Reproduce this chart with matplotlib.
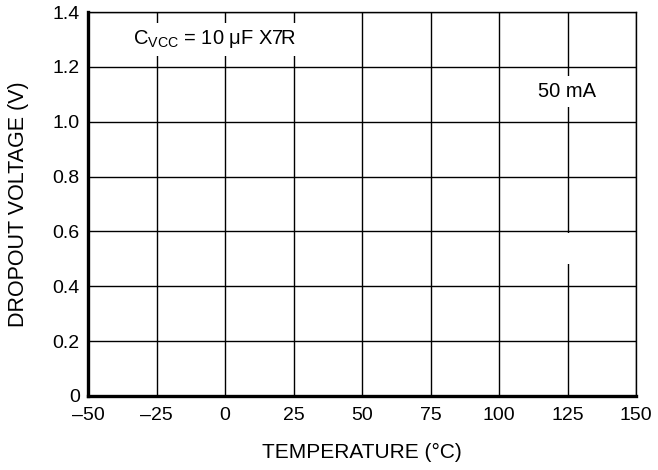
import matplotlib

matplotlib.use("Agg")
import matplotlib.pyplot as plt

plt.rcParams["font.family"] = ["Liberation Sans", "DejaVu Sans"]
plt.rcParams["mathtext.fontset"] = "custom"
plt.rcParams["mathtext.rm"] = "Liberation Sans"

# axis ticks
x_ticks = [-50, -25, 0, 25, 50, 75, 100, 125, 150]
x_labels = ["–50", "–25", "0", "25", "50", "75", "100", "125", "150"]
y_ticks = [0, 0.2, 0.4, 0.6, 0.8, 1.0, 1.2, 1.4]
y_labels = ["0", "0.2", "0.4", "0.6", "0.8", "1.0", "1.2", "1.4"]

# annotations (text, x, y)
cap_note = ("C$_\\mathrm{VCC}$ = 10 μF X7R", -33.5, 1.30)
curve_label = ("50 mA", 125, 1.11)
blank_box = ("   ", 125, 0.537)

fig = plt.figure(figsize=(6.58, 4.70), dpi=100)
ax = fig.add_axes([88 / 658, 1 - 396 / 470, (636 - 88) / 658, (396 - 12) / 470])

ax.set_xlim(x_ticks[0], x_ticks[-1])
ax.set_ylim(y_ticks[0], y_ticks[-1])
ax.set_xticks(x_ticks)
ax.set_xticklabels(x_labels)
ax.set_yticks(y_ticks)
ax.set_yticklabels(y_labels)
ax.tick_params(length=0, labelsize=14, colors="black")
ax.tick_params(axis="x", pad=8)
ax.tick_params(axis="y", pad=6)
ax.grid(True, color="black", linewidth=1.0)
ax.set_axisbelow(True)

for side in ["top", "right"]:
    ax.spines[side].set_linewidth(1.0)
for side in ["left", "bottom"]:
    ax.spines[side].set_linewidth(2.4)

ax.set_xlabel("TEMPERATURE (°C)", fontsize=15, va="center")
ax.set_ylabel("DROPOUT VOLTAGE (V)", fontsize=15.5, va="center")
ax.xaxis.set_label_coords(0.5, (396 - 452) / 384)
ax.yaxis.set_label_coords((19 - 88) / 548, 0.5)

box = dict(facecolor="white", edgecolor="none", pad=4)
ax.text(cap_note[1], cap_note[2], cap_note[0], fontsize=14.5, ha="left", va="center", bbox=box)
ax.text(curve_label[1], curve_label[2], curve_label[0], fontsize=14.5, ha="center", va="center", bbox=box)
ax.text(blank_box[1], blank_box[2], blank_box[0], fontsize=20, ha="center", va="center",
        bbox=dict(facecolor="white", edgecolor="none", pad=2))

fig.savefig("out.png", dpi=100)
